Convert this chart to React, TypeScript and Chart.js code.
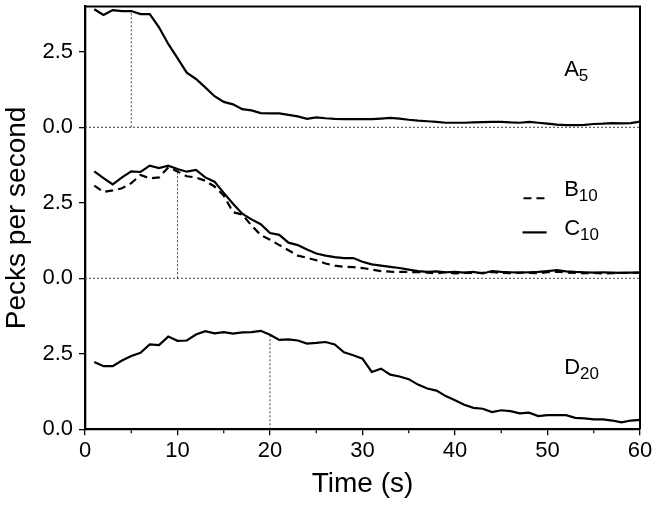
import React, { useEffect, useRef } from "react";
import { Chart, registerables } from "chart.js";

Chart.register(...registerables);

const TIME = [
  1, 2, 3, 4, 5, 6, 7, 8, 9, 10, 11, 12, 13, 14, 15, 16, 17, 18, 19, 20,
  21, 22, 23, 24, 25, 26, 27, 28, 29, 30, 31, 32, 33, 34, 35, 36, 37, 38, 39, 40,
  41, 42, 43, 44, 45, 46, 47, 48, 49, 50, 51, 52, 53, 54, 55, 56, 57, 58, 59, 60,
];

const A5 = [
  3.91, 3.72, 3.88, 3.85, 3.85, 3.75, 3.75, 3.31, 2.76, 2.29,
  1.81, 1.6, 1.32, 1.03, 0.84, 0.76, 0.6, 0.56, 0.47, 0.46,
  0.46, 0.41, 0.36, 0.28, 0.33, 0.3, 0.28, 0.27, 0.27, 0.27,
  0.27, 0.29, 0.31, 0.29, 0.25, 0.22, 0.2, 0.18, 0.15, 0.15,
  0.15, 0.16, 0.17, 0.18, 0.18, 0.16, 0.15, 0.18, 0.15, 0.12,
  0.09, 0.07, 0.07, 0.08, 0.11, 0.12, 0.14, 0.13, 0.14, 0.19,
];

const B10 = [
  3.07, 2.86, 2.91, 2.98, 3.15, 3.42, 3.31, 3.34, 3.67, 3.54,
  3.38, 3.34, 3.23, 3.04, 2.74, 2.19, 2.11, 1.75, 1.43, 1.28,
  1.1, 0.93, 0.75, 0.68, 0.6, 0.49, 0.42, 0.38, 0.37, 0.34,
  0.29, 0.24, 0.22, 0.21, 0.21, 0.2, 0.19, 0.16, 0.2, 0.16,
  0.18, 0.18, 0.18, 0.21, 0.18, 0.17, 0.19, 0.18, 0.17, 0.2,
  0.22, 0.19, 0.18, 0.17, 0.18, 0.16, 0.17, 0.18, 0.18, 0.19,
];

const C10 = [
  3.54, 3.32, 3.11, 3.34, 3.54, 3.52, 3.73, 3.65, 3.73, 3.62,
  3.53, 3.59, 3.34, 3.2, 2.83, 2.47, 2.14, 1.95, 1.79, 1.5,
  1.44, 1.18, 1.1, 0.95, 0.82, 0.75, 0.7, 0.67, 0.67, 0.55,
  0.46, 0.42, 0.38, 0.34, 0.29, 0.24, 0.21, 0.23, 0.2, 0.21,
  0.19, 0.21, 0.16, 0.24, 0.21, 0.2, 0.19, 0.2, 0.21, 0.24,
  0.27, 0.23, 0.21, 0.2, 0.19, 0.2, 0.19, 0.18, 0.19, 0.19,
];

const D20 = [
  2.23, 2.09, 2.09, 2.28, 2.43, 2.53, 2.81, 2.79, 3.07, 2.93,
  2.94, 3.14, 3.25, 3.18, 3.22, 3.17, 3.21, 3.22, 3.26, 3.13,
  2.96, 2.98, 2.94, 2.84, 2.86, 2.89, 2.81, 2.55, 2.45, 2.34,
  1.9, 2.01, 1.81, 1.75, 1.66, 1.48, 1.35, 1.28, 1.1, 0.96,
  0.81, 0.71, 0.68, 0.57, 0.63, 0.6, 0.53, 0.55, 0.44, 0.47,
  0.47, 0.47, 0.38, 0.36, 0.33, 0.33, 0.29, 0.23, 0.29, 0.31,
];

const Y_TICKS = [0, 2.5, 5, 7.5, 10, 12.5];
const MINOR_X = [5, 15, 25, 35, 45, 55];

// panel baselines (stacked panels share one value axis)
const OFFSET_A = 10;
const OFFSET_BC = 5;
const OFFSET_D = 0;
// times of the vertical reference marks
const MARK_A = 5;
const MARK_BC = 10;
const MARK_D = 20;

const FONT = "'Liberation Sans', Arial, Helvetica, sans-serif";

function shift(vals: number[], off: number) {
  return vals.map((v, i) => ({ x: TIME[i], y: v + off }));
}

function at(vals: number[], t: number) {
  return vals[TIME.indexOf(t)];
}

const dotted = {
  borderColor: "#444",
  borderWidth: 1,
  borderDash: [2, 2],
  pointRadius: 0,
  fill: false,
  tension: 0,
};

const curve = {
  borderColor: "#000",
  borderWidth: 2.2,
  pointRadius: 0,
  fill: false,
  tension: 0,
  clip: false as any,
};

function drawSub(ctx: CanvasRenderingContext2D, main: string, sub: string, x: number, y: number) {
  ctx.font = `22px ${FONT}`;
  ctx.textAlign = "left";
  ctx.textBaseline = "alphabetic";
  ctx.fillStyle = "#000";
  ctx.fillText(main, x, y);
  const w = ctx.measureText(main).width;
  ctx.font = `17px ${FONT}`;
  ctx.fillText(sub, x + w, y + 5);
}

const annotate = {
  id: "annotate",
  afterDatasetsDraw(chart: any) {
    const { ctx, chartArea: ca, scales } = chart;
    const x = scales.x;
    const y = scales.y;
    ctx.save();
    // frame top and right
    ctx.strokeStyle = "#000";
    ctx.lineWidth = 2;
    ctx.beginPath();
    ctx.moveTo(ca.left, ca.top);
    ctx.lineTo(ca.right, ca.top);
    ctx.lineTo(ca.right, ca.bottom);
    ctx.stroke();
    // minor x ticks
    ctx.lineWidth = 1.2;
    MINOR_X.forEach((v) => {
      const px = x.getPixelForValue(v);
      ctx.beginPath();
      ctx.moveTo(px, ca.bottom + 1);
      ctx.lineTo(px, ca.bottom + 4);
      ctx.stroke();
    });
    // panel labels
    drawSub(ctx, "A", "5", x.getPixelForValue(51.8), y.getPixelForValue(11.69));
    drawSub(ctx, "B", "10", x.getPixelForValue(51.8), y.getPixelForValue(7.73));
    drawSub(ctx, "C", "10", x.getPixelForValue(51.8), y.getPixelForValue(6.45));
    drawSub(ctx, "D", "20", x.getPixelForValue(51.8), y.getPixelForValue(1.84));
    // legend samples
    ctx.lineWidth = 2.2;
    ctx.setLineDash([8, 5]);
    ctx.beginPath();
    ctx.moveTo(x.getPixelForValue(47.4), y.getPixelForValue(7.65));
    ctx.lineTo(x.getPixelForValue(49.9), y.getPixelForValue(7.65));
    ctx.stroke();
    ctx.setLineDash([]);
    ctx.beginPath();
    ctx.moveTo(x.getPixelForValue(47.3), y.getPixelForValue(6.52));
    ctx.lineTo(x.getPixelForValue(49.9), y.getPixelForValue(6.52));
    ctx.stroke();
    ctx.restore();
  },
};

export default function App() {
  const ref = useRef<HTMLCanvasElement | null>(null);

  useEffect(() => {
    if (!ref.current) return;
    Chart.defaults.font.family = FONT;
    const chart = new Chart(ref.current, {
      type: "line",
      data: {
        datasets: [
          { ...curve, data: shift(A5, OFFSET_A) },
          { ...curve, data: shift(B10, OFFSET_BC), borderDash: [8, 5] },
          { ...curve, data: shift(C10, OFFSET_BC) },
          { ...curve, data: shift(D20, OFFSET_D) },
          { ...dotted, data: [{ x: 0, y: OFFSET_A }, { x: 60, y: OFFSET_A }] },
          { ...dotted, data: [{ x: 0, y: OFFSET_BC }, { x: 60, y: OFFSET_BC }] },
          { ...dotted, data: [{ x: MARK_A, y: OFFSET_A }, { x: MARK_A, y: OFFSET_A + at(A5, MARK_A) }] },
          {
            ...dotted,
            data: [
              { x: MARK_BC, y: OFFSET_BC },
              { x: MARK_BC, y: OFFSET_BC + Math.max(at(B10, MARK_BC), at(C10, MARK_BC)) },
            ],
          },
          { ...dotted, data: [{ x: MARK_D, y: OFFSET_D }, { x: MARK_D, y: OFFSET_D + at(D20, MARK_D) }] },
        ] as any,
      },
      options: {
        responsive: false,
        animation: false,
        devicePixelRatio: 1,
        layout: { padding: { top: 6.5, right: 18, bottom: 0, left: 0 } },
        plugins: { legend: { display: false }, tooltip: { enabled: false } },
        scales: {
          x: {
            type: "linear",
            min: 0,
            max: 60,
            ticks: {
              stepSize: 10,
              color: "#000",
              font: { size: 22, family: FONT },
              padding: 2,
              maxRotation: 0,
              autoSkip: false,
            },
            grid: {
              drawOnChartArea: false,
              drawTicks: true,
              tickLength: 6,
              color: "#000",
              lineWidth: 1.3,
            },
            border: { display: true, color: "#000", width: 2.3 },
            title: {
              display: true,
              text: "Time (s)",
              color: "#000",
              font: { size: 28, family: FONT },
              padding: { top: 0, bottom: 5 },
            },
            afterFit: (s: any) => {
              s.height = 76.7;
              s.paddingLeft = 0;
              s.paddingRight = 0;
            },
          },
          y: {
            type: "linear",
            min: 0,
            max: 14,
            afterBuildTicks: (s: any) => {
              s.ticks = Y_TICKS.map((v) => ({ value: v }));
            },
            ticks: {
              color: "#000",
              font: { size: 22, family: FONT },
              padding: 6,
              callback: (v: any) => (Number(v) % 5).toFixed(1),
            },
            grid: {
              drawOnChartArea: false,
              drawTicks: true,
              tickLength: 6,
              color: "#000",
              lineWidth: 1.3,
            },
            border: { display: true, color: "#000", width: 2.3 },
            title: {
              display: true,
              text: "Pecks per second",
              color: "#000",
              font: { size: 28, family: FONT },
              padding: { top: 0, bottom: 0 },
            },
            afterFit: (s: any) => {
              s.width = 85;
              s.paddingTop = 0;
              s.paddingBottom = 0;
            },
          },
        },
      },
      plugins: [annotate],
    });
    return () => chart.destroy();
  }, []);

  return (
    <div style={{ position: "fixed", left: 0, top: 0, width: 658, height: 506, background: "#fff" }}>
      <canvas ref={ref} width={658} height={506} style={{ display: "block", width: 658, height: 506 }} />
    </div>
  );
}
